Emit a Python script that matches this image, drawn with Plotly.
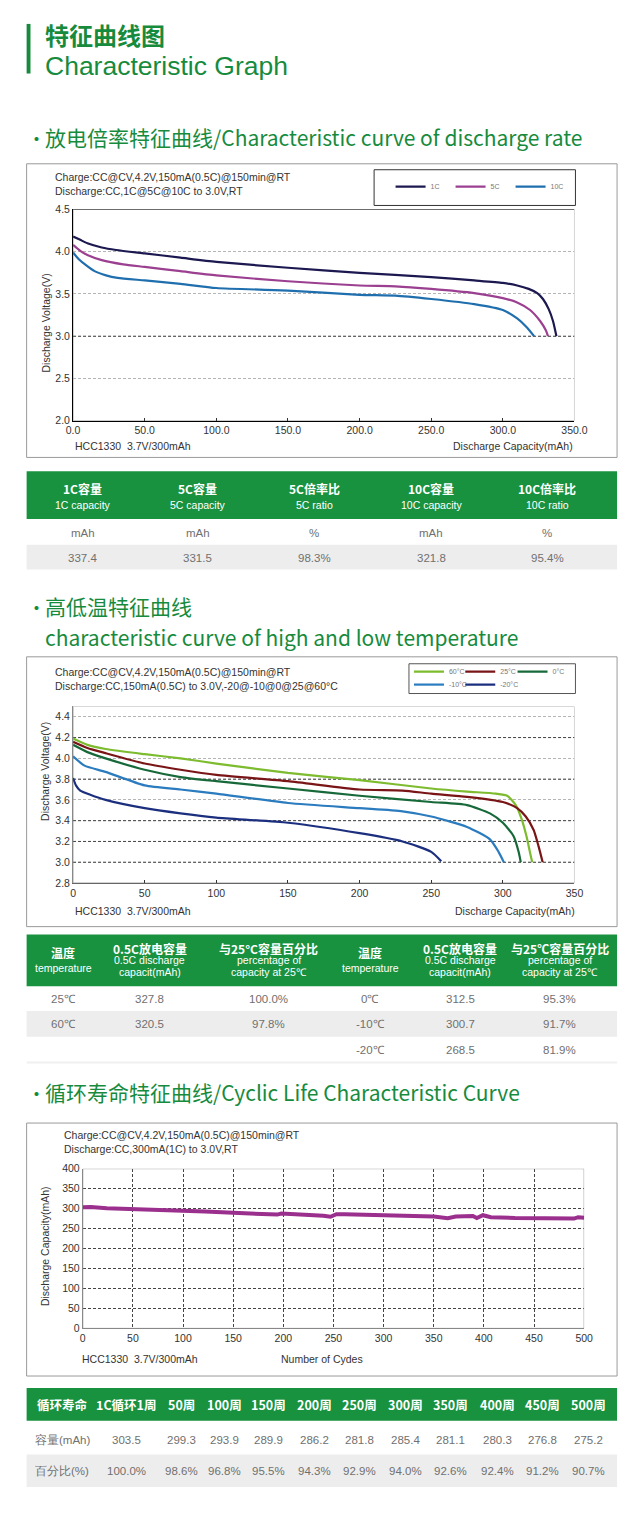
import plotly.graph_objects as go

# ---------------- data: discharge-rate curves ----------------
RATE_NAMES = ["1C", "5C", "10C"]
CAP_1C = [0, 5, 10, 20, 30, 50, 75, 100, 150, 200, 250, 280, 300, 310, 318, 324, 328, 332, 335, 337.4]
V_1C = [4.18, 4.14, 4.10, 4.05, 4.02, 3.98, 3.93, 3.88, 3.81, 3.75, 3.70, 3.66, 3.63, 3.60, 3.56, 3.51, 3.44, 3.32, 3.18, 3.00]
CAP_5C = [0, 5, 10, 20, 35, 50, 75, 100, 150, 200, 225, 250, 280, 300, 310, 319, 326, 330, 331.5]
V_5C = [4.08, 4.01, 3.96, 3.90, 3.85, 3.82, 3.77, 3.72, 3.65, 3.60, 3.59, 3.56, 3.51, 3.45, 3.40, 3.31, 3.18, 3.07, 3.00]
CAP_10C = [0, 4, 9, 15, 23, 31, 50, 75, 100, 150, 200, 225, 250, 280, 300, 310, 317, 321.8]
V_10C = [3.99, 3.91, 3.84, 3.77, 3.72, 3.69, 3.66, 3.62, 3.57, 3.54, 3.49, 3.48, 3.44, 3.38, 3.31, 3.21, 3.10, 3.00]

# ---------------- data: temperature curves ----------------
TEMP_NAMES = ["60°C", "25°C", "0°C", "-10°C", "-20°C"]
CAP_60 = [0, 10, 22.7, 50, 75, 100, 150, 200, 250, 275, 295, 303, 309, 313, 316.5, 319, 320.5]
V_60 = [4.19, 4.13, 4.09, 4.04, 4.00, 3.95, 3.86, 3.79, 3.71, 3.68, 3.66, 3.64, 3.55, 3.42, 3.25, 3.09, 3.00]
CAP_25 = [0, 10, 22.7, 50, 75, 100, 150, 200, 230, 250, 275, 300, 310, 316, 321.5, 325, 327.8]
V_25 = [4.16, 4.10, 4.05, 3.95, 3.89, 3.84, 3.78, 3.70, 3.69, 3.66, 3.63, 3.58, 3.52, 3.44, 3.31, 3.15, 3.00]
CAP_0 = [0, 10, 22.7, 50, 75, 100, 150, 200, 250, 275, 291, 300, 307.5, 311, 312.5]
V_0 = [4.13, 4.06, 4.00, 3.89, 3.82, 3.78, 3.71, 3.64, 3.58, 3.55, 3.47, 3.38, 3.25, 3.10, 3.00]
CAP_M10 = [0, 8, 22.7, 50, 75, 100, 150, 200, 230, 250, 275, 291, 297, 300.7]
V_M10 = [4.02, 3.93, 3.87, 3.74, 3.70, 3.66, 3.57, 3.52, 3.49, 3.44, 3.34, 3.22, 3.10, 3.00]
CAP_M20 = [0, 2, 5, 12, 22.7, 50, 75, 100, 150, 200, 230, 250, 257]
V_M20 = [3.81, 3.74, 3.69, 3.65, 3.60, 3.52, 3.47, 3.43, 3.38, 3.28, 3.20, 3.10, 3.01]

# ---------------- data: cycle life ----------------
CYCLES = [0, 8, 24, 43, 50, 83, 100, 122, 150, 170, 194, 198, 225, 240, 247, 253, 261, 281, 300,
          316, 340, 350, 364, 372, 389, 393, 399, 407, 431, 450, 470, 490, 494, 500]
CYCLE_CAP = [303.7, 304, 301, 299.6, 298.5, 298, 294.6, 293, 289.5, 288.5, 285, 287.5, 285, 282, 279.5,
             286, 286, 285, 285, 283.5, 281.5, 280, 276, 280, 281.5, 276.5, 283.5, 278.5, 276.5, 276.5,
             276, 275, 278.5, 277]

# ---------------- data: tables ----------------
T1_HEAD_CN = ["1C容量", "5C容量", "5C倍率比", "10C容量", "10C倍率比"]
T1_HEAD_EN = ["1C capacity", "5C capacity", "5C ratio", "10C capacity", "10C ratio"]
T1_UNITS = ["mAh", "mAh", "%", "mAh", "%"]
T1_VALUES = ["337.4", "331.5", "98.3%", "321.8", "95.4%"]

T2_HEAD_CN = ["温度", "0.5C放电容量", "与25°C容量百分比", "温度", "0.5C放电容量", "与25℃容量百分比"]
T2_HEAD_EN = [["temperature"], ["0.5C discharge", "capacit(mAh)"], ["percentage of", "capacity at 25℃"],
              ["temperature"], ["0.5C discharge", "capacit(mAh)"], ["percentage of", "capacity at 25℃"]]
T2_ROWS = [["25℃", "327.8", "100.0%", "0℃", "312.5", "95.3%"],
           ["60℃", "320.5", "97.8%", "-10℃", "300.7", "91.7%"],
           ["", "", "", "-20℃", "268.5", "81.9%"]]

T3_HEAD = ["循环寿命", "1C循环1周", "50周", "100周", "150周", "200周", "250周", "300周", "350周", "400周", "450周", "500周"]
T3_CAP = ["容量(mAh)", "303.5", "299.3", "293.9", "289.9", "286.2", "281.8", "285.4", "281.1", "280.3", "276.8", "275.2"]
T3_PCT = ["百分比(%)", "100.0%", "98.6%", "96.8%", "95.5%", "94.3%", "92.9%", "94.0%", "92.6%", "92.4%", "91.2%", "90.7%"]

# ---------------- layout helpers (page px -> paper; page body has an 8px margin) ----------------
OFF = 8
FW, FH = 624, 1500


def fx(px):
    return (px - OFF) / FW


def fy(py):
    return 1 - (py - OFF) / FH


GREEN_TXT = "#178b3d"
GREEN_FILL = "#18923f"
ROW_GRAY = "#ededed"
CELL_TXT = "#707070"
CHART_FONT = "Liberation Sans"
CJK = "Noto Sans CJK SC"
DASH = "3px,2px"

fig = go.Figure()

# ---------- chart 1 traces ----------
rate_series = [(CAP_1C, V_1C, "#1c1850"), (CAP_5C, V_5C, "#9b3f90"), (CAP_10C, V_10C, "#1f6fae")]
for name, (xs, ys, col) in zip(RATE_NAMES, rate_series):
    fig.add_trace(go.Scatter(x=xs, y=ys, name=name, mode="lines", xaxis="x", yaxis="y", legend="legend",
                             line=dict(color=col, width=2.2, shape="spline", smoothing=0.6)))

# ---------- chart 2 traces (one small legend per entry) ----------
temp_series = [(CAP_60, V_60, "#7dbb2f"), (CAP_25, V_25, "#7a1517"), (CAP_0, V_0, "#17693a"),
               (CAP_M10, V_M10, "#2b7bbf"), (CAP_M20, V_M20, "#1c2f7e")]
TEMP_LEGENDS = ["legend2", "legend3", "legend4", "legend5", "legend6"]
for name, (xs, ys, col), lg in zip(TEMP_NAMES, temp_series, TEMP_LEGENDS):
    fig.add_trace(go.Scatter(x=xs, y=ys, name=name, mode="lines", xaxis="x2", yaxis="y2", legend=lg,
                             line=dict(color=col, width=2.2, shape="spline", smoothing=0.6)))

# ---------- chart 3 trace ----------
fig.add_trace(go.Scatter(x=CYCLES, y=CYCLE_CAP, mode="lines", xaxis="x3", yaxis="y3", showlegend=False,
                         line=dict(color="#9b2f8d", width=4)))

# ---------- axes ----------
tickf = dict(family=CHART_FONT, size=10.5, color="#333")
fig.update_layout(
    xaxis=dict(domain=[fx(68), fx(586)], anchor="y", range=[0, 350], tickvals=list(range(0, 351, 50)),
               tickformat=".1f", ticks="inside", ticklen=3, tickcolor="#333", showline=True,
               linecolor="black", linewidth=1, showgrid=False, zeroline=False, tickfont=tickf),
    yaxis=dict(domain=[fy(418), fy(205)], anchor="x", range=[2.0, 4.5], tickvals=[2.0, 2.5, 3.0, 3.5, 4.0, 4.5],
               tickformat=".1f", showline=True, linecolor="black", linewidth=1, showgrid=True,
               gridcolor="#b5b5b5", griddash=DASH, zeroline=False, tickfont=tickf),
    xaxis2=dict(domain=[fx(68), fx(586)], anchor="y2", range=[0, 350], tickvals=list(range(0, 351, 50)),
                ticks="inside", ticklen=3, tickcolor="#333", showline=True, linecolor="#666", linewidth=1,
                showgrid=False, zeroline=False, tickfont=tickf),
    yaxis2=dict(domain=[fy(884), fy(706)], anchor="x2", range=[2.8, 4.5],
                tickvals=[2.8, 3.0, 3.2, 3.4, 3.6, 3.8, 4.0, 4.2, 4.4], tickformat=".1f",
                showline=True, linecolor="#888", linewidth=1, showgrid=True, gridcolor="#b5b5b5",
                griddash=DASH, zeroline=False, tickfont=tickf),
    xaxis3=dict(domain=[fx(78), fx(596)], anchor="y3", range=[0, 500], tickvals=list(range(0, 501, 50)),
                showline=True, linecolor="#888", linewidth=1, showgrid=True, gridcolor="#444",
                griddash=DASH, zeroline=False, tickfont=tickf),
    yaxis3=dict(domain=[fy(1333), fy(1172)], anchor="x3", range=[0, 400], tickvals=list(range(0, 401, 50)),
                showline=True, linecolor="#888", linewidth=1, showgrid=True, gridcolor="#444",
                griddash=DASH, zeroline=False, tickfont=tickf),
)

shapes = []
ann = []


def rect(x0, y0, x1, y1, fill, line_color=None, width=0):
    shapes.append(dict(type="rect", xref="paper", yref="paper", x0=fx(x0), x1=fx(x1), y0=fy(y1), y1=fy(y0),
                       fillcolor=fill, line=dict(color=line_color or "rgba(0,0,0,0)", width=width)))


def text(px, py, s, size, color, family=CHART_FONT, xanchor="left", angle=0):
    ann.append(dict(x=fx(px), y=fy(py), xref="paper", yref="paper", text=s, showarrow=False,
                    xanchor=xanchor, yanchor="middle", textangle=angle,
                    font=dict(size=size, color=color, family=family)))


# ---------- header / section titles ----------
rect(20, 18, 24, 68, GREEN_TXT)
text(37, 29, "<b>特征曲线图</b>", 24, GREEN_TXT, CJK)
text(37, 60, "Characteristic Graph", 26.5, GREEN_TXT, "Liberation Sans")
for py, s in [(132, "放电倍率特征曲线/Characteristic curve of discharge rate"),
              (605, "高低温特征曲线"),
              (636, "characteristic curve of high and low temperature"),
              (1095, "循环寿命特征曲线/Cyclic Life Characteristic Curve")]:
    text(37, py, s, 21, GREEN_TXT, CJK)
for py in [133, 606, 1096]:
    text(18, py, "•", 19, GREEN_TXT, CJK)

# ---------- chart boxes, legend boxes, frames ----------
for top, bot in [(159, 455), (656, 928), (1126, 1381)]:
    rect(20, top, 630, bot, "rgba(0,0,0,0)", "#9a9a9a", 1)
rect(379, 165, 587, 201, "rgba(0,0,0,0)", "#333", 1)
rect(415, 663, 587, 693, "rgba(0,0,0,0)", "#555", 1)

shapes.append(dict(type="rect", xref="x", yref="y", x0=0, x1=350, y0=2.0, y1=4.5,
                   line=dict(color="#aaa", width=1), layer="between"))
shapes.append(dict(type="line", xref="x", yref="y", x0=0, x1=350, y0=4.5, y1=4.5,
                   line=dict(color="black", width=1.2), layer="between"))
shapes.append(dict(type="line", xref="x", yref="y", x0=0, x1=350, y0=3.0, y1=3.0,
                   line=dict(color="#444", width=1, dash=DASH), layer="between"))
shapes.append(dict(type="rect", xref="x2", yref="y2", x0=0, x1=350, y0=2.8, y1=4.5,
                   line=dict(color="#aaa", width=1), layer="between"))
for lvl in [3.0, 3.2, 3.4, 3.8, 4.2]:
    shapes.append(dict(type="line", xref="x2", yref="y2", x0=0, x1=350, y0=lvl, y1=lvl,
                       line=dict(color="#444", width=1, dash=DASH), layer="between"))
shapes.append(dict(type="rect", xref="x3", yref="y3", x0=0, x1=500, y0=0, y1=400,
                   line=dict(color="#999", width=1), layer="between"))

# ---------- chart texts ----------
CT = "#333"
text(47, 172, "Charge:CC@CV,4.2V,150mA(0.5C)@150min@RT", 10.5, CT)
text(47, 186, "Discharge:CC,1C@5C@10C to 3.0V,RT", 10.5, CT)
text(39, 320, "Discharge Voltage(V)", 10.5, CT, xanchor="center", angle=-90)
text(68, 443, "HCC1330  3.7V/300mAh", 10.5, CT)
text(587, 443, "Discharge Capacity(mAh)", 10.5, CT, xanchor="right")

text(47, 671, "Charge:CC@CV,4.2V,150mA(0.5C)@150min@RT", 10.5, CT)
text(47, 685, "Discharge:CC,150mA(0.5C) to 3.0V,-20@-10@0@25@60°C", 10.5, CT)
text(39, 772, "Discharge Voltage(V)", 10.5, CT, xanchor="center", angle=-90)
text(68, 912, "HCC1330  3.7V/300mAh", 10.5, CT)
text(589, 912, "Discharge Capacity(mAh)", 10.5, CT, xanchor="right")

text(57, 1138, "Charge:CC@CV,4.2V,150mA(0.5C)@150min@RT", 10.5, CT)
text(57, 1152, "Discharge:CC,300mA(1C) to 3.0V,RT", 10.5, CT)
text(39, 1250, "Discharge Capacity(mAh)", 10.5, CT, xanchor="center", angle=-90)
text(75, 1364, "HCC1330  3.7V/300mAh", 10.5, CT)
text(325, 1364, "Number of Cydes", 10.5, CT, xanchor="center")

# ---------- tables ----------
WHITE = "white"
CELL_SIZE = 11.5

# table 1
T1_X = [78, 197, 317, 438, 558]
rect(20, 469, 630, 517, GREEN_FILL)
rect(20, 543, 630, 568, ROW_GRAY)
for cx, cn, en, u, v in zip(T1_X, T1_HEAD_CN, T1_HEAD_EN, T1_UNITS, T1_VALUES):
    text(cx, 486, f"<b>{cn}</b>", 12, WHITE, CJK, "center")
    text(cx, 503, en, 10.5, WHITE, CHART_FONT, "center")
    text(cx, 531, u, CELL_SIZE, CELL_TXT, CHART_FONT, "center")
    text(cx, 556, v, CELL_SIZE, CELL_TXT, CHART_FONT, "center")

# table 2
T2_X = [58, 147, 270, 375, 468, 571]
rect(20, 936, 630, 988, GREEN_FILL)
rect(20, 1013, 630, 1039, ROW_GRAY)
rect(20, 1064, 630, 1066, "#f0f0f0")
for ci, (cx, cn, en) in enumerate(zip(T2_X, T2_HEAD_CN, T2_HEAD_EN)):
    lines = [(f"<b>{cn}</b>", 12, CJK)] + [(e, 10.5, CHART_FONT) for e in en]
    n = len(lines)
    step = 12 if n == 3 else 15
    for li, (s, sz, fam) in enumerate(lines):
        text(cx, 962 + (li - (n - 1) / 2) * step, s, sz, WHITE, fam, "center")
    for ri, row in enumerate(T2_ROWS):
        if row[ci]:
            text(cx, 1001 + ri * 25.5, row[ci], CELL_SIZE, CELL_TXT, CHART_FONT, "center")

# table 3
T3_X = [57, 123, 180, 224, 270, 317, 364, 411, 458, 506, 553, 600]
rect(20, 1393, 630, 1426, GREEN_FILL)
rect(20, 1460, 630, 1493, ROW_GRAY)
for cx, h, c, p in zip(T3_X, T3_HEAD, T3_CAP, T3_PCT):
    text(cx, 1410, f"<b>{h}</b>", 12.5, WHITE, CJK, "center")
    text(cx, 1445, c, CELL_SIZE, CELL_TXT, CHART_FONT, "center")
    text(cx, 1477, p, CELL_SIZE, CELL_TXT, CHART_FONT, "center")

legend_common = dict(xref="paper", yref="paper", xanchor="left", yanchor="middle", orientation="h",
                     font=dict(size=7, color="#777", family=CHART_FONT), bgcolor="rgba(0,0,0,0)",
                     itemwidth=30, borderwidth=0, tracegroupgap=0)
# positions of the per-entry legends of chart 2 (page px)
TEMP_LEG_POS = [(415, 671), (468, 671), (522, 671), (415, 684), (468, 684)]
temp_legends = {lg: dict(x=fx(px), y=fy(py), **legend_common) for lg, (px, py) in zip(TEMP_LEGENDS, TEMP_LEG_POS)}

fig.update_layout(
    width=FW, height=FH, margin=dict(l=0, r=0, t=0, b=0),
    paper_bgcolor="white", plot_bgcolor="white",
    showlegend=True,
    legend=dict(x=fx(396), y=fy(182), entrywidth=15, **legend_common),
    shapes=shapes, annotations=ann,
    **temp_legends,
)

fig.write_html("out.html")
